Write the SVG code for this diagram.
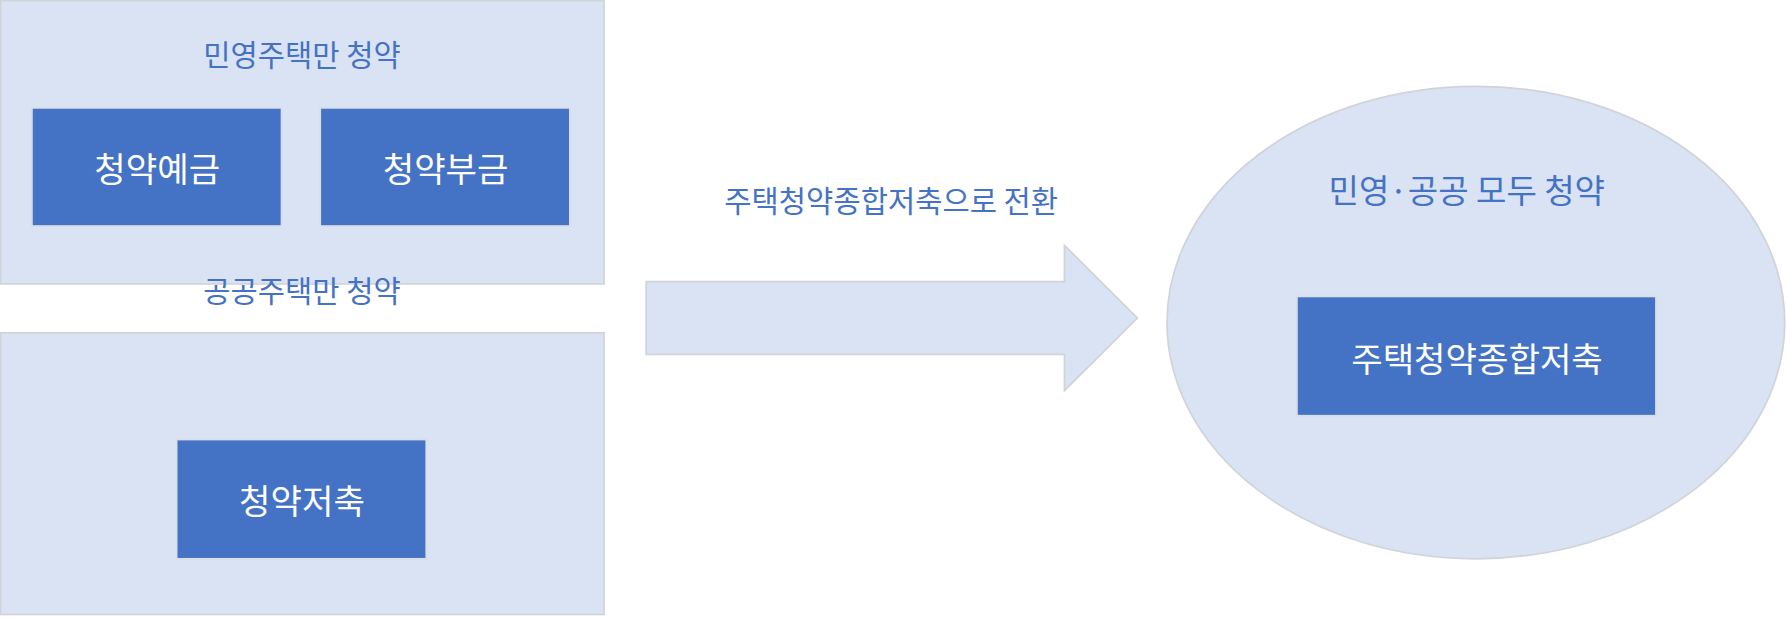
<svg xmlns="http://www.w3.org/2000/svg" width="1787" height="619" viewBox="0 0 1787 619">
<style>
.bg{fill:#DAE3F3;stroke:#D0D3DA;stroke-width:1.5}
.in{fill:#4472C4;stroke:#D9DDE5;stroke-width:1.5}
text{font-family:"Noto Sans CJK KR","Noto Sans",sans-serif;text-anchor:middle;dominant-baseline:central}
.t{fill:#4472C4;font-size:26px}
.w{fill:#FFFFFF;font-size:30px}
</style>
<rect width="1787" height="619" fill="#fff"/>
<g transform="scale(1.13967,1.13578)">
<g id="private">
<rect class="bg" x="0.5" y="0.5" width="529.5" height="249.5"/>
<text class="t" x="265" y="47">민영주택만 청약</text>
</g>
<g id="yegeum"><rect class="in" x="28" y="95" width="219" height="104"/><text class="w" x="138" y="147">청약예금</text></g>
<g id="bugeum"><rect class="in" x="281" y="95" width="219" height="104"/><text class="w" x="391" y="147">청약부금</text></g>
<g id="public">
<rect class="bg" x="0.5" y="293" width="529.5" height="248"/>
<text class="t" x="265" y="255">공공주택만 청약</text>
</g>
<g id="jeochuk"><rect class="in" x="155" y="387" width="219" height="105"/><text class="w" x="265" y="439">청약저축</text></g>
<g id="connectors">
<path class="bg" d="M567,248 H934 V216 L998,280 L934,344 V312 H567 Z"/>
<text class="t" x="782" y="176">주택청약종합저축으로 전환</text>
</g>
<g id="both">
<ellipse class="bg" cx="1295" cy="284" rx="271" ry="208"/>
<text class="t" x="1287" y="166" style="font-size:29px">민영·공공 모두 청약</text>
</g>
<g id="jonghap"><rect class="in" x="1138" y="261" width="315" height="105"/><text class="w" x="1296" y="314">주택청약종합저축</text></g>
</g>
</svg>
